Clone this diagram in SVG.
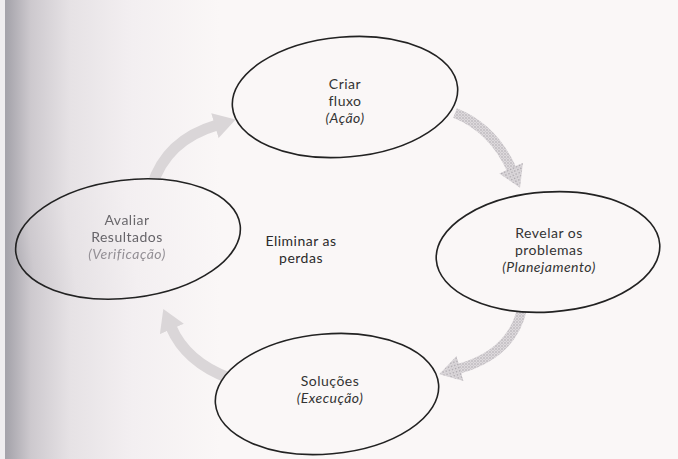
<svg xmlns="http://www.w3.org/2000/svg" width="678" height="459" viewBox="0 0 678 459">
  <defs>
    <!-- page tone with the darker gutter shading on the left -->
    <linearGradient id="page" gradientUnits="userSpaceOnUse" x1="0" y1="0" x2="220" y2="0">
      <stop offset="0" stop-color="#9e9ca4"/>
      <stop offset="0.04" stop-color="#a9a7ae"/>
      <stop offset="0.14" stop-color="#cdc9ce"/>
      <stop offset="0.32" stop-color="#e6e2e5"/>
      <stop offset="0.6" stop-color="#f3eff1"/>
      <stop offset="1" stop-color="#faf7f7"/>
    </linearGradient>
    <!-- dotted halftone used on two of the arrows -->
    <pattern id="stipple" patternUnits="userSpaceOnUse" width="3" height="3">
      <rect width="3" height="3" fill="#dedadd"/>
      <circle cx="1" cy="1" r="0.8" fill="#aca8ad"/>
      <circle cx="2.4" cy="2.3" r="0.5" fill="#c0bcc0"/>
    </pattern>
    <marker id="headSoft" markerUnits="userSpaceOnUse" markerWidth="22" markerHeight="26" viewBox="0 0 20 24" refX="2" refY="12" orient="auto">
      <path d="M0,0 L20,12 L0,24 Z" fill="#dad6d8"/>
    </marker>
    <marker id="headDot" markerUnits="userSpaceOnUse" markerWidth="22" markerHeight="26" viewBox="0 0 20 24" refX="2" refY="12" orient="auto">
      <path d="M0,0 L20,12 L0,24 Z" fill="url(#stipple)"/>
    </marker>
    <filter id="soft" x="-10%" y="-10%" width="120%" height="120%">
      <feGaussianBlur stdDeviation="0.7"/>
    </filter>
    <style>
      .node { stroke: #222; stroke-width: 1.6; fill: url(#page); }
      .lbl { font-family: Lato, "Open Sans", "DejaVu Sans", sans-serif; font-size: 14px; letter-spacing: 0.5px; fill: #333; text-anchor: middle; }
      .it { font-style: italic; }
      .arrowSoft { fill: none; stroke: #dad6d8; stroke-width: 11; marker-end: url(#headSoft); }
      .arrowDot { fill: none; stroke: url(#stipple); stroke-width: 10; marker-end: url(#headDot); }
    </style>
  </defs>

  <!-- page -->
  <rect x="0" y="0" width="678" height="459" fill="url(#page)"/>
  <rect x="0" y="0" width="5" height="459" fill="#efedef"/>

  <!-- cycle arrows -->
  <g id="connectors">
    <path class="arrowSoft" d="M152,186 Q166,140 217,125"/>
    <path class="arrowDot" d="M455,113 Q493,128 512,170"/>
    <path class="arrowDot" d="M522,309 Q512,354 458,369"/>
    <path class="arrowSoft" d="M229,378 Q186,362 171,327"/>
  </g>

  <g id="criar-fluxo">
    <ellipse class="node" cx="345" cy="97" rx="113" ry="60" transform="rotate(-5 345 97)"/>
    <text class="lbl" x="345" y="89">Criar</text>
    <text class="lbl" x="345" y="106">fluxo</text>
    <text class="lbl it" x="345" y="123">(Ação)</text>
  </g>

  <g id="revelar-problemas">
    <ellipse class="node" cx="548" cy="252" rx="112" ry="60" transform="rotate(-4 548 252)"/>
    <text class="lbl" x="549" y="238">Revelar os</text>
    <text class="lbl" x="549" y="255">problemas</text>
    <text class="lbl it" x="549" y="272">(Planejamento)</text>
  </g>

  <g id="solucoes">
    <ellipse class="node" cx="327" cy="394" rx="112" ry="60" transform="rotate(-5 327 394)"/>
    <text class="lbl" x="330" y="386">Soluções</text>
    <text class="lbl it" x="330" y="403">(Execução)</text>
  </g>

  <g id="avaliar-resultados" filter="url(#soft)">
    <ellipse class="node" cx="128" cy="239" rx="113" ry="59" transform="rotate(-7 128 239)"/>
    <text class="lbl" x="127" y="225" style="fill:#6a686c">Avaliar</text>
    <text class="lbl" x="127" y="242" style="fill:#666469">Resultados</text>
    <text class="lbl it" x="127" y="259" style="fill:#949096">(Verificação)</text>
  </g>

  <g id="eliminar-perdas">
    <text class="lbl" x="301" y="246" style="fill:#2a2a2a">Eliminar as</text>
    <text class="lbl" x="301" y="263" style="fill:#2a2a2a">perdas</text>
  </g>
</svg>
